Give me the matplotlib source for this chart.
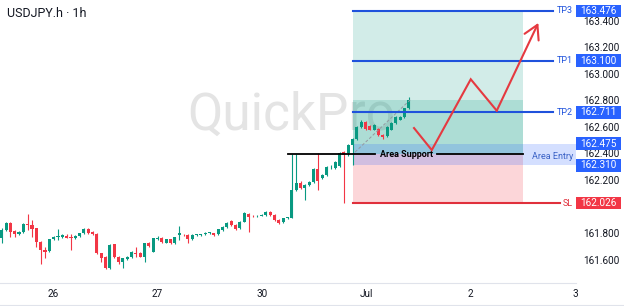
import matplotlib.pyplot as plt
import matplotlib.transforms as mtransforms
from matplotlib.patches import Rectangle

plt.rcParams['font.family'] = ['Roboto', 'DejaVu Sans']

# USDJPY 1h candles, oldest first
opens = [161.760, 161.823, 161.878, 161.818, 161.790, 161.810, 161.868, 161.860, 161.835, 161.735,
         161.672, 161.664, 161.752, 161.770, 161.772, 161.780, 161.772, 161.760, 161.778, 161.798,
         161.828, 161.810, 161.793, 161.647, 161.622, 161.534, 161.715, 161.622, 161.584, 161.604,
         161.617, 161.650, 161.652, 161.622, 161.727, 161.660, 161.755, 161.765, 161.727, 161.752,
         161.722, 161.785, 161.785, 161.785, 161.755, 161.783, 161.786, 161.790, 161.800, 161.798,
         161.790, 161.823, 161.843, 161.891, 161.860, 161.835, 161.886, 161.944, 161.928, 161.926,
         161.930, 161.936, 161.961, 161.936, 161.898, 161.880, 161.912, 161.916, 162.125, 162.180,
         162.137, 162.162, 162.188, 162.280, 162.212, 162.238, 162.295, 162.287, 162.305, 162.410,
         162.400, 162.464, 162.507, 162.602, 162.640, 162.610, 162.580, 162.582, 162.540, 162.530,
         162.580, 162.630, 162.655, 162.678, 162.741]
highs = [161.835, 161.885, 161.885, 161.825, 161.815, 161.875, 161.944, 161.898, 161.840, 161.740,
         161.697, 161.755, 161.780, 161.833, 161.795, 161.790, 161.792, 161.785, 161.803, 161.835,
         161.835, 161.815, 161.798, 161.652, 161.630, 161.715, 161.720, 161.627, 161.615, 161.625,
         161.665, 161.692, 161.657, 161.728, 161.732, 161.765, 161.775, 161.770, 161.757, 161.757,
         161.772, 161.853, 161.790, 161.790, 161.790, 161.790, 161.795, 161.808, 161.808, 161.803,
         161.833, 161.853, 161.885, 161.896, 161.865, 161.890, 161.955, 161.950, 161.934, 161.936,
         161.942, 161.966, 161.966, 161.940, 161.903, 161.915, 161.920, 162.393, 162.395, 162.190,
         162.170, 162.195, 162.290, 162.400, 162.245, 162.305, 162.310, 162.345, 162.410, 162.420,
         162.470, 162.515, 162.610, 162.650, 162.648, 162.615, 162.620, 162.590, 162.545, 162.610,
         162.635, 162.685, 162.685, 162.745, 162.829]
lows = [161.722, 161.815, 161.767, 161.767, 161.785, 161.800, 161.822, 161.772, 161.697, 161.566,
        161.609, 161.660, 161.745, 161.747, 161.765, 161.760, 161.672, 161.755, 161.773, 161.793,
        161.793, 161.788, 161.640, 161.584, 161.530, 161.530, 161.615, 161.566, 161.534, 161.598,
        161.612, 161.622, 161.617, 161.584, 161.697, 161.655, 161.750, 161.727, 161.722, 161.717,
        161.717, 161.747, 161.778, 161.722, 161.750, 161.778, 161.780, 161.785, 161.795, 161.780,
        161.785, 161.818, 161.838, 161.855, 161.823, 161.830, 161.880, 161.810, 161.920, 161.920,
        161.925, 161.930, 161.930, 161.893, 161.870, 161.875, 161.908, 161.910, 162.120, 162.130,
        162.050, 162.155, 162.180, 162.124, 162.205, 162.230, 162.285, 162.280, 162.300, 162.030,
        162.380, 162.310, 162.500, 162.595, 162.575, 162.575, 162.575, 162.535, 162.507, 162.525,
        162.575, 162.625, 162.650, 162.670, 162.735]
closes = [161.823, 161.878, 161.810, 161.790, 161.810, 161.868, 161.860, 161.828, 161.735, 161.672,
          161.660, 161.752, 161.772, 161.780, 161.785, 161.765, 161.765, 161.780, 161.798, 161.828,
          161.798, 161.793, 161.647, 161.609, 161.534, 161.710, 161.622, 161.584, 161.609, 161.617,
          161.660, 161.642, 161.622, 161.722, 161.702, 161.760, 161.765, 161.735, 161.752, 161.722,
          161.767, 161.798, 161.782, 161.752, 161.785, 161.786, 161.790, 161.803, 161.803, 161.785,
          161.828, 161.848, 161.878, 161.860, 161.828, 161.886, 161.949, 161.918, 161.926, 161.930,
          161.935, 161.961, 161.936, 161.898, 161.878, 161.910, 161.916, 162.125, 162.180, 162.137,
          162.162, 162.188, 162.281, 162.195, 162.238, 162.300, 162.300, 162.338, 162.406, 162.390,
          162.464, 162.507, 162.602, 162.640, 162.582, 162.580, 162.612, 162.540, 162.528, 162.602,
          162.630, 162.678, 162.678, 162.741, 162.804]

# date ticks (candle index where each day starts)
day_pos = [11.9, 36.0, 60.1, 84.1, 108.3, 132.4]
day_labels = ['26', '27', '30', 'Jul', '2', '3']
# 162.000 sits under the SL box, so it is left out
price_ticks = [161.6, 161.8, 162.2, 162.4, 162.6, 162.8, 163.0, 163.2, 163.4]

# trade plan drawn on the chart
entry = 162.396
tp_names = ['TP3', 'TP1', 'TP2']
tp_levels = [163.476, 163.100, 162.711]
sl_level = 162.026
zone_top2 = 162.80
entry_band = (162.310, 162.475)
zone_x = (81.1, 120.4)
path_x = [95.2, 99.3, 108.3, 114.3, 123.9]
path_y = [162.592, 162.426, 162.960, 162.723, 163.385]
trend_x = [81.6, 94.3]
trend_y = [162.411, 162.804]

UP = '#089981'
DOWN = '#f23645'
BLUE = '#2962ff'
TEXT = '#131722'

fig = plt.figure(figsize=(6.24, 3.06), dpi=100)
ax = fig.add_axes([0, 23 / 306, 576 / 624, 283 / 306])
ax.set_xlim(-0.39, 132.6)
ax.set_ylim(161.423, 163.558)

# watermark
ax.text(42.8, 162.577, 'QuickPro', fontsize=37, color='#e4e4e4', ha='left', va='baseline', zorder=0)

# position zones
x0, x1 = zone_x
ax.add_patch(Rectangle((x0, entry), x1 - x0, tp_levels[0] - entry, color=UP, alpha=0.18, lw=0, zorder=0.5))
ax.add_patch(Rectangle((x0, entry), x1 - x0, zone_top2 - entry, color=UP, alpha=0.18, lw=0, zorder=0.5))
ax.add_patch(Rectangle((x0, sl_level), x1 - x0, entry - sl_level, color=DOWN, alpha=0.2, lw=0, zorder=0.5))
ax.add_patch(Rectangle((x0, entry_band[0]), 132.6 - x0, entry_band[1] - entry_band[0],
                       color=BLUE, alpha=0.2, lw=0, zorder=0.6))

# candles
for i in range(len(opens)):
    o, h, l, c = opens[i], highs[i], lows[i], closes[i]
    col = UP if c >= o else DOWN
    ax.vlines(i, l, h, color=col, lw=0.8, zorder=2)
    ax.bar(i, max(abs(c - o), 0.006), bottom=min(o, c), width=0.7, color=col, lw=0, zorder=2.5)

# dashed trend line
ax.plot(trend_x, trend_y, color='#9598a1', lw=0.7, ls=(0, (3, 2)), zorder=3)

# area support line with label
ax.plot([66.0, 86.3], [entry, entry], color='black', lw=1.3, zorder=3)
ax.plot([100.4, x1], [entry, entry], color='black', lw=1.3, zorder=3)
ax.text(93.4, entry, 'Area Support', fontsize=6.5, fontweight='bold', color='black',
        ha='center', va='center', zorder=4)
ax.text(127.3, entry_band[0] + 0.07, 'Area Entry', fontsize=6.5, color='#3b62c6',
        ha='center', va='center', zorder=4)

# TP / SL lines
for name, lvl in zip(tp_names, tp_levels):
    ax.plot([x0, 127.3], [lvl, lvl], color='#1f52dc', lw=1.5, zorder=3)
    ax.text(130.0, lvl, name, fontsize=6.5, color='#1f52dc', ha='center', va='center', zorder=4)
ax.plot([x0, 128.9], [sl_level, sl_level], color='#e0303c', lw=1.5, zorder=3)
ax.text(130.7, sl_level, 'SL', fontsize=6.5, color='#e0303c', ha='center', va='center', zorder=4)

# red zigzag projection
ax.plot(path_x[:-1], path_y[:-1], color='#e53940', lw=1.5, zorder=4, solid_joinstyle='miter')
ax.annotate('', xy=(path_x[-1], path_y[-1]), xytext=(path_x[-2], path_y[-2]),
            arrowprops=dict(arrowstyle='->,head_length=0.7,head_width=0.4', color='#e53940',
                            lw=1.5, mutation_scale=14, shrinkA=0, shrinkB=0), zorder=4)

# price boxes on the scale
trans = mtransforms.blended_transform_factory(ax.transAxes, ax.transData)
boxes = tp_levels + list(entry_band)
box_cols = [BLUE] * len(boxes) + [DOWN]
boxes = boxes + [sl_level]
for lvl, col in zip(boxes, box_cols):
    ax.add_patch(Rectangle((1.0, lvl - 0.048), 0.0775, 0.096, transform=trans, color=col,
                           lw=0, clip_on=False, zorder=5))
    ax.text(1.0388, lvl, f'{lvl:.3f}', transform=trans, fontsize=7.2, color='white',
            ha='center', va='center', clip_on=False, zorder=6)

# axes styling
ax.yaxis.tick_right()
ax.set_yticks(price_ticks)
ax.set_yticklabels([f'{p:.3f}' for p in price_ticks])
ax.set_xticks(day_pos)
ax.set_xticklabels(day_labels)
ax.tick_params(axis='y', length=0, pad=5, labelsize=7.2, labelcolor=TEXT)
ax.tick_params(axis='x', length=0, pad=4, labelsize=7.2, labelcolor=TEXT)
for s in ['top', 'left', 'right']:
    ax.spines[s].set_visible(False)
ax.spines['bottom'].set_color('#e0e3eb')
ax.spines['bottom'].set_linewidth(0.8)
fig.add_artist(plt.Line2D([0, 1], [1.5 / 306, 1.5 / 306], color='#e0e3eb', lw=0.8))

fig.text(7 / 624, 1 - 17 / 306, 'USDJPY.h \u00b7 1h', fontsize=9, color=TEXT, va='baseline')

fig.savefig('out.png', dpi=100)
